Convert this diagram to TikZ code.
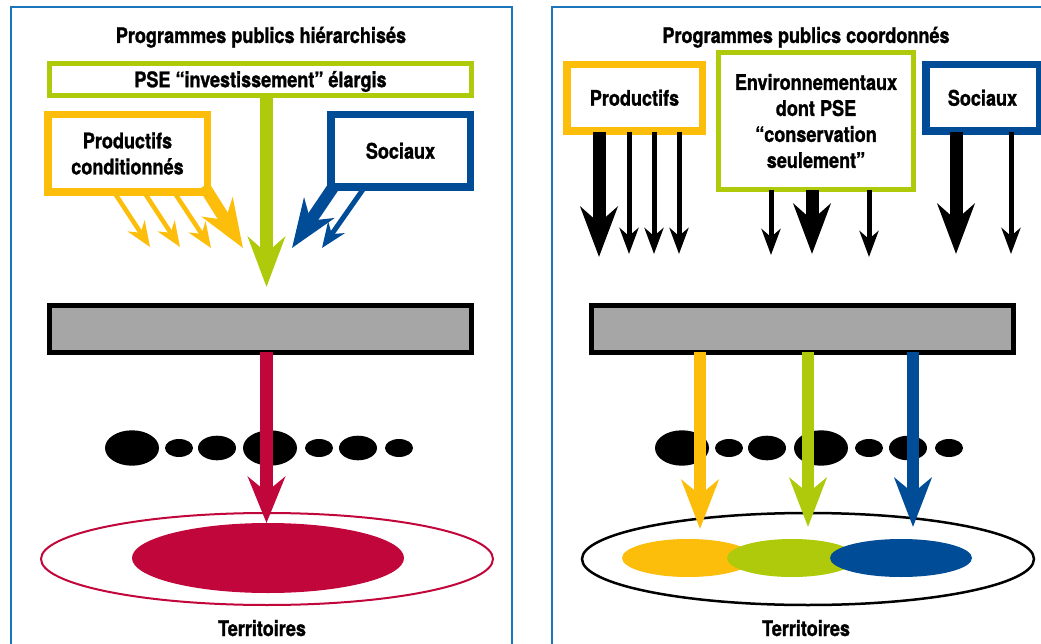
\documentclass[tikz,border=0pt]{standalone}
\usepackage{fontspec}
\setmainfont{TeX Gyre Heros}[FakeStretch=0.84, BoldFeatures={FakeBold=1.2}]
\usetikzlibrary{arrows.meta}
\definecolor{frameblue}{RGB}{27,117,187}
\definecolor{pyellow}{RGB}{252,190,10}
\definecolor{pgreen}{RGB}{175,202,11}
\definecolor{pblue}{RGB}{0,76,151}
\definecolor{pred}{RGB}{193,6,59}
\definecolor{pgray}{RGB}{166,166,166}
\begin{document}
\begin{tikzpicture}[x=1pt,y=-1pt,
  frame/.style={draw=frameblue, line width=2.3pt},
  txt/.style={font=\bfseries\fontsize{21.5}{26}\selectfont, inner sep=0pt},
  box/.style={txt, draw, fill=white, align=center},
  one/.style={text height=15.4pt, text depth=0pt},
  bar/.style={draw=black, fill=pgray, line width=5pt, inner sep=0pt, minimum width=422pt, minimum height=47pt},
  bigarrow/.style={line width=13pt, -{Stealth[length=50pt,width=37pt,inset=16pt]}},
  smallarrow/.style={line width=5pt, -{Stealth[length=26pt,width=19pt,inset=8pt]}},
  midarrow/.style={line width=12pt, -{Stealth[length=48pt,width=36pt,inset=15pt]}},
  thinarrow/.style={line width=4.5pt, -{Stealth[length=25pt,width=20pt,inset=8pt]}},
  dot/.style={fill=black}
]
\useasboundingbox (0,0) rectangle (1041,644);
\clip (0,0) rectangle (1041,644);

% frames
\draw[frame] (11,7) rectangle (512,700);
\draw[frame] (552,7) rectangle (1100,700);

% ---------------- left panel ----------------
\node[txt, anchor=base] (t1) at (261,43) {Programmes publics hiérarchisés};
\node[box, one, draw=pgreen, line width=5pt, minimum width=422pt, minimum height=32pt] (pse) at (260.5,79.5) {PSE “investissement” élargis};
\node[box, draw=pyellow, line width=7.5pt, minimum width=159.5pt, minimum height=77.5pt] (pc) at (127.5,153.5) {Productifs\\conditionnés};
\node[box, one, draw=pblue, line width=7.5pt, minimum width=139.5pt, minimum height=72.5pt] (soc1) at (400.5,151) {Sociaux};

\coordinate (g1s) at (266.5,96);  \coordinate (g1t) at (266.5,287);
\coordinate (y1s) at (114,192);   \coordinate (y1t) at (150,247);
\coordinate (y2s) at (144,192);   \coordinate (y2t) at (180,247);
\coordinate (y3s) at (174,192);   \coordinate (y3t) at (211,248);
\coordinate (y4s) at (204,186);   \coordinate (y4t) at (243,248);
\coordinate (b1s) at (334,186);   \coordinate (b1t) at (292,248);
\coordinate (b2s) at (364,188);   \coordinate (b2t) at (322,248);

\draw[thinarrow, pyellow] (y1s) -- (y1t);
\draw[thinarrow, pyellow] (y2s) -- (y2t);
\draw[thinarrow, pyellow] (y3s) -- (y3t);
\draw[midarrow, pyellow] (y4s) -- (y4t);
\draw[midarrow, pblue] (b1s) -- (b1t);
\draw[thinarrow, pblue, line width=5pt] (b2s) -- (b2t);
\draw[bigarrow, pgreen] (g1s) -- (g1t);

\node[bar] (bar1) at (260.5,329) {};

% dots
\fill[dot] (132,448) ellipse [x radius=27, y radius=17.7];
\fill[dot] (179,448) ellipse [x radius=14, y radius=9];
\fill[dot] (217,448) ellipse [x radius=19, y radius=12.3];
\fill[dot] (270,448) ellipse [x radius=27, y radius=17.7];
\fill[dot] (319,448) ellipse [x radius=14, y radius=9];
\fill[dot] (358,448) ellipse [x radius=19, y radius=12.3];
\fill[dot] (399,448) ellipse [x radius=14, y radius=9];

% territory
\draw[pred, line width=2pt, fill=white] (267,559) ellipse [x radius=226, y radius=46];
\fill[pred] (268,558) ellipse [x radius=136, y radius=35];

\coordinate (r1s) at (266.5,352); \coordinate (r1t) at (266.5,523);
\draw[line width=13pt, pred, -{Stealth[length=46pt,width=37pt,inset=15pt]}] (r1s) -- (r1t);

\node[txt, anchor=base] (terr1) at (262,636) {Territoires};

% ---------------- right panel ----------------
\node[txt, anchor=base] (t2) at (806,43) {Programmes publics coordonnés};
\node[box, one, draw=pyellow, line width=7.5pt, minimum width=135.5pt, minimum height=66.5pt] (prod) at (634.5,98) {Productifs};
\node[box, draw=pgreen, line width=5pt, minimum width=195pt, minimum height=137pt] (env) at (816,121) {Environnementaux\\dont PSE\\“conservation\\seulement”};
\node[box, one, draw=pblue, line width=7.5pt, minimum width=113.5pt, minimum height=66.5pt] (soc2) at (982.5,98) {Sociaux};

\coordinate (p1s) at (599,132);  \coordinate (p1t) at (599,257);
\coordinate (p2s) at (629,132);  \coordinate (p2t) at (629,254);
\coordinate (p3s) at (654,132);  \coordinate (p3t) at (654,254);
\coordinate (p4s) at (679,132);  \coordinate (p4t) at (679,254);
\coordinate (e1s) at (771,190);  \coordinate (e1t) at (771,255);
\coordinate (e2s) at (812,190);  \coordinate (e2t) at (812,254);
\coordinate (e3s) at (869,190);  \coordinate (e3t) at (869,257);
\coordinate (s1s) at (956,132);  \coordinate (s1t) at (956,254);
\coordinate (s2s) at (1011,132); \coordinate (s2t) at (1011,254);

\draw[bigarrow] (p1s) -- (p1t);
\draw[smallarrow] (p2s) -- (p2t);
\draw[smallarrow] (p3s) -- (p3t);
\draw[smallarrow] (p4s) -- (p4t);
\draw[smallarrow] (e1s) -- (e1t);
\draw[bigarrow] (e2s) -- (e2t);
\draw[smallarrow] (e3s) -- (e3t);
\draw[bigarrow] (s1s) -- (s1t);
\draw[smallarrow] (s2s) -- (s2t);

\node[bar] (bar2) at (802.5,329) {};

\fill[dot] (682,448) ellipse [x radius=27, y radius=17.7];
\fill[dot] (729,448) ellipse [x radius=14, y radius=9];
\fill[dot] (767,448) ellipse [x radius=19, y radius=12.3];
\fill[dot] (821,448) ellipse [x radius=27, y radius=17.7];
\fill[dot] (869,448) ellipse [x radius=14, y radius=9];
\fill[dot] (908,448) ellipse [x radius=19, y radius=12.3];
\fill[dot] (949,448) ellipse [x radius=14, y radius=9];

\draw[black, line width=2.5pt, fill=white] (808,559) ellipse [x radius=226, y radius=46];
\fill[pyellow] (688,558) ellipse [x radius=66, y radius=19];
\fill[pgreen] (792,558) ellipse [x radius=65, y radius=19];
\fill[pblue] (901,558) ellipse [x radius=71, y radius=19];

\coordinate (cy1s) at (700,352); \coordinate (cy1t) at (700,529);
\coordinate (cg1s) at (808,352); \coordinate (cg1t) at (808,527);
\coordinate (cb1s) at (913,352); \coordinate (cb1t) at (913,527);
\draw[line width=12pt, pyellow, -{Stealth[length=49pt,width=37pt,inset=15pt]}] (cy1s) -- (cy1t);
\draw[line width=12pt, pgreen, -{Stealth[length=49pt,width=37pt,inset=15pt]}] (cg1s) -- (cg1t);
\draw[line width=12pt, pblue, -{Stealth[length=49pt,width=37pt,inset=15pt]}] (cb1s) -- (cb1t);

\node[txt, anchor=base] (terr2) at (806,636) {Territoires};
\end{tikzpicture}
\end{document}
